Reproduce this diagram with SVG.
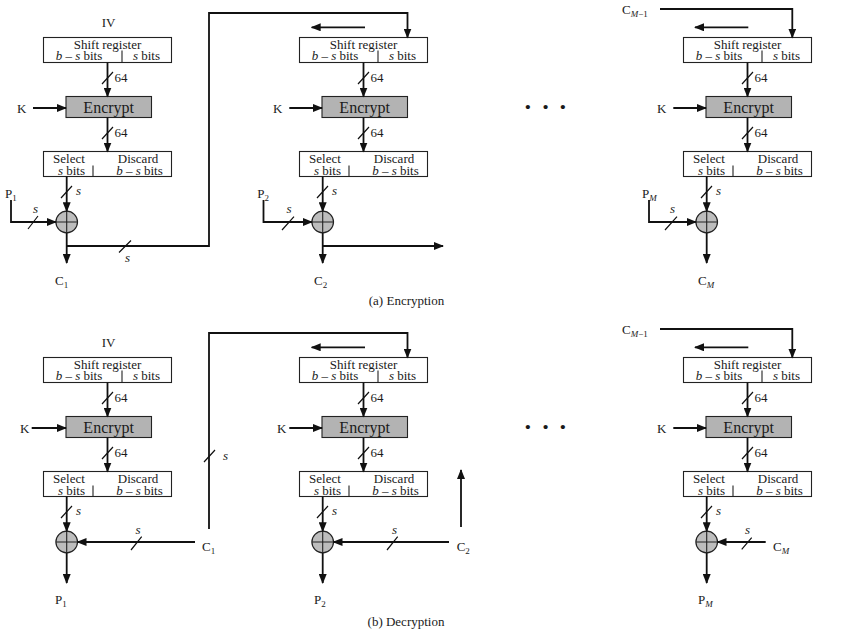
<svg xmlns="http://www.w3.org/2000/svg" width="850" height="636" viewBox="0 0 850 636">
<defs>
<style>
text{font-family:"Liberation Serif","Times New Roman",serif;font-size:13px;fill:#1a1a1a}
.m{text-anchor:middle}
.i{font-style:italic}
.te{font-size:16px}
.sub{font-size:9px}
.box{fill:#fff;stroke:#222;stroke-width:1.1}
.encbox{fill:#b3b3b3;stroke:#222;stroke-width:1.1}
.xor{fill:#bdbdbd;stroke:#222;stroke-width:1.2}
.thin{stroke:#222;stroke-width:1.1;fill:none}
.ln{stroke:#111;stroke-width:1.8;fill:none}
.sl{stroke:#111;stroke-width:1.2;fill:none}
.dots{font-size:26px;font-weight:bold}
</style>
<marker id="ah" viewBox="0 0 10 8" refX="9" refY="4" markerWidth="10" markerHeight="8" markerUnits="userSpaceOnUse" orient="auto">
<path d="M0,0 L10,4 L0,8 z" fill="#111"/>
</marker>
<g id="srbox">
<rect class="box" x="43.5" y="37.5" width="128" height="25"/>
<line class="thin" x1="122" y1="50.5" x2="122" y2="62.5"/>
<text class="m" x="107.5" y="48.5">Shift register</text>
<text class="m" x="79" y="60"><tspan class="i">b</tspan> – <tspan class="i">s</tspan> bits</text>
<text class="m" x="146.5" y="60"><tspan class="i">s</tspan> bits</text>
</g>
<g id="encbox">
<rect class="encbox" x="66" y="96.5" width="85.5" height="21"/>
<text class="m te" x="108.7" y="112.5">Encrypt</text>
</g>
<g id="selbox">
<rect class="box" x="43.5" y="151.5" width="128" height="25"/>
<line class="thin" x1="93" y1="165.5" x2="93" y2="176.5"/>
<text class="m" x="69" y="162.5">Select</text>
<text class="m" x="138" y="162.5">Discard</text>
<text class="m" x="71.5" y="174.5"><tspan class="i">s</tspan> bits</text>
<text class="m" x="139.5" y="174.5"><tspan class="i">b</tspan> – <tspan class="i">s</tspan> bits</text>
</g>
<g id="xorgate">
<circle class="xor" cx="66.7" cy="222" r="10.8"/>
<path class="thin" d="M55.9,222 H77.5 M66.7,211.2 V232.8"/>
</g>
</defs>

<!-- (a) Encryption nodes -->
<g id="a-col1">
<g id="a-iv"><text x="101.7" y="27.3">IV</text></g>
<g id="a-sr1"><use href="#srbox"/></g>
<g id="a-enc1"><use href="#encbox"/></g>
<g id="a-sel1"><use href="#selbox"/></g>
<g id="a-xor1"><use href="#xorgate"/></g>
<g id="a-k1"><text x="17" y="112.5">K</text></g>
<g id="a-p1"><text x="5" y="197.5">P<tspan class="sub" dy="3">1</tspan></text></g>
<g id="a-c1"><text x="55" y="285">C<tspan class="sub" dy="3">1</tspan></text></g>
</g>
<g id="a-col2">
<g id="a-sr2" transform="translate(256,0)"><use href="#srbox"/></g>
<g id="a-enc2" transform="translate(256,0)"><use href="#encbox"/></g>
<g id="a-sel2" transform="translate(256,0)"><use href="#selbox"/></g>
<g id="a-xor2" transform="translate(256,0)"><use href="#xorgate"/></g>
<g id="a-k2"><text x="273" y="112.5">K</text></g>
<g id="a-p2"><text x="257.3" y="197.5">P<tspan class="sub" dy="3">2</tspan></text></g>
<g id="a-c2"><text x="314" y="285">C<tspan class="sub" dy="3">2</tspan></text></g>
</g>
<g id="a-dots"><text class="dots" x="523.5 541.2 558.5" y="115">···</text></g>
<g id="a-col3">
<g id="a-cm1"><text x="622" y="13.5">C<tspan class="sub" dy="3"><tspan class="i">M</tspan>−1</tspan></text></g>
<g id="a-sr3" transform="translate(640,0)"><use href="#srbox"/></g>
<g id="a-enc3" transform="translate(640,0)"><use href="#encbox"/></g>
<g id="a-sel3" transform="translate(640,0)"><use href="#selbox"/></g>
<g id="a-xor3" transform="translate(640,0)"><use href="#xorgate"/></g>
<g id="a-k3"><text x="657" y="112.5">K</text></g>
<g id="a-pm"><text x="642" y="197.5">P<tspan class="sub i" dy="3">M</tspan></text></g>
<g id="a-cm"><text x="698" y="285">C<tspan class="sub i" dy="3">M</tspan></text></g>
</g>
<g id="a-caption"><text class="m" x="406.5" y="305">(a) Encryption</text></g>

<!-- (b) Decryption nodes -->
<g id="b-col1">
<g id="b-iv"><text x="101.7" y="347.3">IV</text></g>
<g id="b-sr1" transform="translate(0,320)"><use href="#srbox"/></g>
<g id="b-enc1" transform="translate(0,320)"><use href="#encbox"/></g>
<g id="b-sel1" transform="translate(0,320)"><use href="#selbox"/></g>
<g id="b-xor1" transform="translate(0,320)"><use href="#xorgate"/></g>
<g id="b-k1"><text x="20" y="432.5">K</text></g>
<g id="b-c1"><text x="202" y="551">C<tspan class="sub" dy="3">1</tspan></text></g>
<g id="b-p1"><text x="55" y="603.5">P<tspan class="sub" dy="3">1</tspan></text></g>
</g>
<g id="b-col2">
<g id="b-sr2" transform="translate(256,320)"><use href="#srbox"/></g>
<g id="b-enc2" transform="translate(256,320)"><use href="#encbox"/></g>
<g id="b-sel2" transform="translate(256,320)"><use href="#selbox"/></g>
<g id="b-xor2" transform="translate(256,320)"><use href="#xorgate"/></g>
<g id="b-k2"><text x="277" y="432.5">K</text></g>
<g id="b-c2"><text x="456.7" y="551">C<tspan class="sub" dy="3">2</tspan></text></g>
<g id="b-p2"><text x="314" y="603.5">P<tspan class="sub" dy="3">2</tspan></text></g>
</g>
<g id="b-dots"><text class="dots" x="523.5 541.2 558.5" y="435">···</text></g>
<g id="b-col3">
<g id="b-cm1"><text x="622" y="333.5">C<tspan class="sub" dy="3"><tspan class="i">M</tspan>−1</tspan></text></g>
<g id="b-sr3" transform="translate(640,320)"><use href="#srbox"/></g>
<g id="b-enc3" transform="translate(640,320)"><use href="#encbox"/></g>
<g id="b-sel3" transform="translate(640,320)"><use href="#selbox"/></g>
<g id="b-xor3" transform="translate(640,320)"><use href="#xorgate"/></g>
<g id="b-k3"><text x="657" y="432.5">K</text></g>
<g id="b-cm"><text x="773" y="551">C<tspan class="sub i" dy="3">M</tspan></text></g>
<g id="b-pm"><text x="698" y="603.5">P<tspan class="sub i" dy="3">M</tspan></text></g>
</g>
<g id="b-caption"><text class="m" x="406" y="626">(b) Decryption</text></g>

<!-- connectors -->
<g id="connectors">
<g marker-end="url(#ah)" class="ln">
<!-- a col1 -->
<path d="M107.5,62.5 V96.5"/>
<path d="M107.5,117.5 V151.5"/>
<path d="M33,108 H66"/>
<path d="M66.7,176.5 V211.2"/>
<path d="M11,200 V222 H55.9"/>
<path d="M66.7,232.8 V263"/>
<path d="M66.7,246 H209 V13 H407.5 V37.5"/>
<!-- a col2 -->
<path d="M365,27.3 H311.7"/>
<path d="M363.5,62.5 V96.5"/>
<path d="M363.5,117.5 V151.5"/>
<path d="M289.3,108 H322"/>
<path d="M322.7,176.5 V211.2"/>
<path d="M263.5,200 V222 H311.9"/>
<path d="M322.7,232.8 V263"/>
<path d="M322.7,246 H443"/>
<!-- a col3 -->
<path d="M660,9 H792.3 V37.5"/>
<path d="M748.3,27.3 H695"/>
<path d="M747.5,62.5 V96.5"/>
<path d="M747.5,117.5 V151.5"/>
<path d="M673.3,108 H706"/>
<path d="M706.7,176.5 V211.2"/>
<path d="M649,200 V222 H695.9"/>
<path d="M706.7,232.8 V263"/>
<!-- b col1 -->
<path d="M107.5,382.5 V416.5"/>
<path d="M107.5,437.5 V471.5"/>
<path d="M31.7,428 H66"/>
<path d="M66.7,496.5 V531.2"/>
<path d="M195,542 H77.5"/>
<path d="M66.7,552.8 V583"/>
<path d="M209,529 V333 H407.5 V357.5"/>
<!-- b col2 -->
<path d="M365,347.3 H311.7"/>
<path d="M363.5,382.5 V416.5"/>
<path d="M363.5,437.5 V471.5"/>
<path d="M289.3,428 H322"/>
<path d="M322.7,496.5 V531.2"/>
<path d="M449,542 H333.5"/>
<path d="M322.7,552.8 V583"/>
<path d="M461,527 V470"/>
<!-- b col3 -->
<path d="M660,329 H792.3 V357.5"/>
<path d="M748.3,347.3 H695"/>
<path d="M747.5,382.5 V416.5"/>
<path d="M747.5,437.5 V471.5"/>
<path d="M673.3,428 H706"/>
<path d="M706.7,496.5 V531.2"/>
<path d="M765.7,542 H717.5"/>
<path d="M706.7,552.8 V583"/>
</g>
<g class="sl">
<path d="M102,84 L113,72 M102,139 L113,127 M61,198 L72,186 M28,229 L38,216 M119,252.5 L131,240.5"/>
<path d="M358,84 L369,72 M358,139 L369,127 M317,198 L328,186 M282,230 L294,216.7"/>
<path d="M742,84 L753,72 M742,139 L753,127 M701,198 L712,186 M665,230 L677,216.7"/>
<path d="M102,404 L113,392 M102,459 L113,447 M61,518 L72,506 M131,550 L141.7,536.7 M204,462 L215,450"/>
<path d="M358,404 L369,392 M358,459 L369,447 M317,518 L328,506 M387,550 L397.7,536.7"/>
<path d="M742,404 L753,392 M742,459 L753,447 M701,518 L712,506 M741.7,549.3 L751.7,537.7"/>
</g>
<g id="connector-labels">
<text x="114.5" y="82">64</text><text x="114.5" y="137">64</text>
<text class="i" x="76" y="194.5">s</text><text class="i" x="33" y="213">s</text><text class="i" x="125" y="262">s</text>
<text x="370.5" y="82">64</text><text x="370.5" y="137">64</text>
<text class="i" x="332" y="194.5">s</text><text class="i" x="286.5" y="213">s</text>
<text x="754.5" y="82">64</text><text x="754.5" y="137">64</text>
<text class="i" x="716" y="194.5">s</text><text class="i" x="670" y="213">s</text>
<text x="114.5" y="402">64</text><text x="114.5" y="457">64</text>
<text class="i" x="76" y="514.5">s</text><text class="i" x="135.5" y="534">s</text><text class="i" x="223" y="460">s</text>
<text x="370.5" y="402">64</text><text x="370.5" y="457">64</text>
<text class="i" x="332" y="514.5">s</text><text class="i" x="392" y="534">s</text>
<text x="754.5" y="402">64</text><text x="754.5" y="457">64</text>
<text class="i" x="716" y="514.5">s</text><text class="i" x="745" y="534">s</text>
</g>
</g>
</svg>
